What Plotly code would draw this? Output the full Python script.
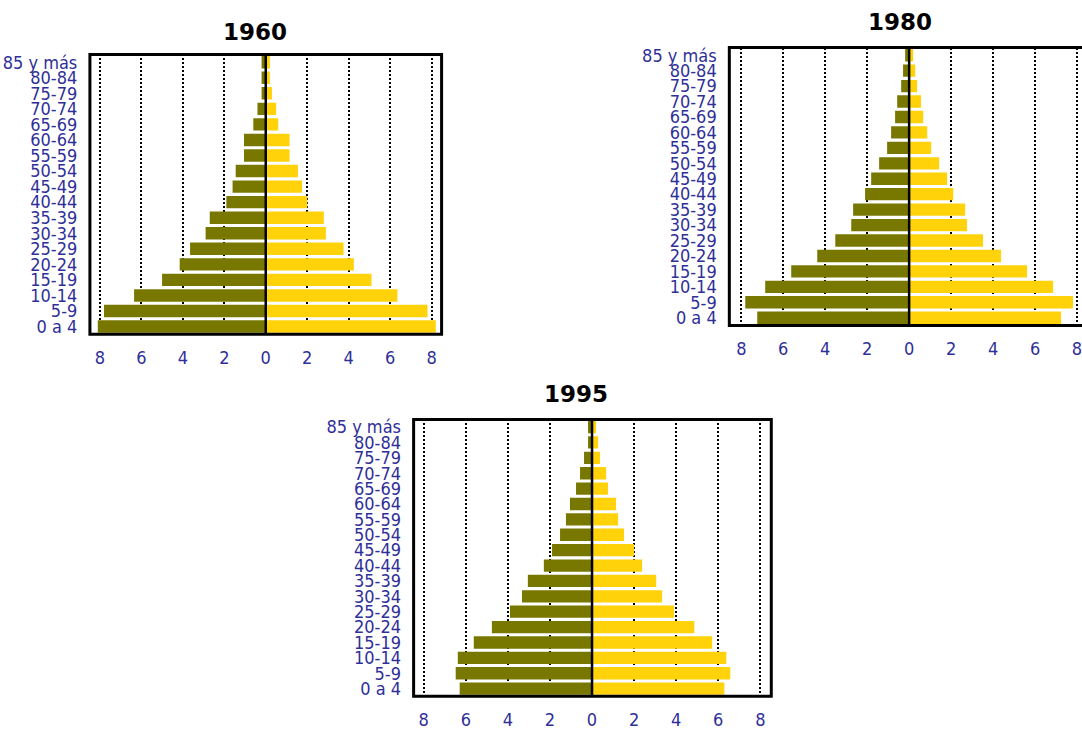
import plotly.graph_objects as go

W, H = 1082, 730

age_groups = ["0 a 4", "5-9", "10-14", "15-19", "20-24", "25-29", "30-34", "35-39",
              "40-44", "45-49", "50-54", "55-59", "60-64", "65-69", "70-74", "75-79",
              "80-84", "85 y más"]

men_1960 = [8.1, 7.8, 6.35, 5.0, 4.15, 3.65, 2.9, 2.7, 1.9, 1.6, 1.45, 1.05, 1.05, 0.6, 0.4, 0.2, 0.2, 0.2]
women_1960 = [8.2, 7.8, 6.35, 5.1, 4.25, 3.75, 2.9, 2.8, 2.0, 1.75, 1.55, 1.15, 1.15, 0.6, 0.5, 0.3, 0.2, 0.2]

men_1980 = [7.24, 7.81, 6.86, 5.62, 4.38, 3.52, 2.76, 2.67, 2.1, 1.81, 1.43, 1.05, 0.86, 0.67, 0.57, 0.38, 0.29, 0.19]
women_1980 = [7.24, 7.81, 6.86, 5.62, 4.38, 3.52, 2.76, 2.67, 2.1, 1.81, 1.43, 1.05, 0.86, 0.67, 0.57, 0.38, 0.29, 0.19]

men_1995 = [6.29, 6.48, 6.38, 5.62, 4.76, 3.9, 3.33, 3.05, 2.29, 1.9, 1.52, 1.24, 1.05, 0.76, 0.57, 0.38, 0.19, 0.19]
women_1995 = [6.29, 6.57, 6.38, 5.71, 4.86, 3.9, 3.33, 3.05, 2.38, 2.0, 1.52, 1.24, 1.14, 0.76, 0.67, 0.38, 0.29, 0.19]

years = ["1960", "1980", "1995"]
tick_vals = [-8, -6, -4, -2, 0, 2, 4, 6, 8]
tick_text = ["8", "6", "4", "2", "0", "2", "4", "6", "8"]

OLIVE = "#787800"
YELLOW = "#FFD20A"
LABEL_BLUE = "#2f2f98"
LABEL_FONT = "Liberation Sans Narrow, DejaVu Sans Condensed, Arial Narrow, sans-serif"

# panel geometry in pixels: (left, right, top, bottom, xmin, xmax)
panels = [
    (90, 442, 52, 335, -8.48, 8.48),
    (730, 1082, 45, 326, -8.57, 8.19),
    (414, 772, 421, 701, -8.48, 8.52),
]
# title centres in pixels
title_pos = [(255, 29.5), (901, 19.5), (577, 395)]
series = [(men_1960, women_1960), (men_1980, women_1980), (men_1995, women_1995)]

fig = go.Figure()
shapes = []
annotations = []
for i, ((l, r, t, b, xmin, xmax), (men, women), year, (tx, ty)) in enumerate(
        zip(panels, series, years, title_pos)):
    sfx = "" if i == 0 else str(i + 1)
    xa, ya = "x" + sfx, "y" + sfx
    fig.add_trace(go.Bar(y=age_groups, x=[-v for v in men], orientation="h",
                         marker=dict(color=OLIVE, line=dict(width=0)),
                         name="Hombres", showlegend=False, xaxis=xa, yaxis=ya))
    fig.add_trace(go.Bar(y=age_groups, x=women, orientation="h",
                         marker=dict(color=YELLOW, line=dict(width=0)),
                         name="Mujeres", showlegend=False, xaxis=xa, yaxis=ya))
    dx = [l / W, r / W]
    dy = [1 - b / H, 1 - t / H]
    fig.update_layout(**{
        "xaxis" + sfx: dict(domain=dx, range=[xmin, xmax], anchor=ya,
                            tickmode="array", tickvals=tick_vals, ticktext=tick_text,
                            showgrid=True, gridcolor="#000000", gridwidth=2, griddash="2px,2px",
                            zeroline=False, showline=False, ticks="",
                            ticklabelstandoff=11, ticklabeloverflow="allow",
                            tickfont=dict(family=LABEL_FONT, size=18, color=LABEL_BLUE),
                            fixedrange=True),
        "yaxis" + sfx: dict(domain=dy, range=[-0.5, 17.5], anchor=xa,
                            type="category", categoryorder="array", categoryarray=age_groups,
                            tickmode="array", tickvals=age_groups, ticktext=age_groups,
                            showgrid=False, zeroline=False, showline=False,
                            ticks="outside", ticklen=8, tickcolor="rgba(0,0,0,0)",
                            tickfont=dict(family=LABEL_FONT, size=18, color=LABEL_BLUE),
                            fixedrange=True),
    })
    # zero line above bars
    shapes.append(dict(type="line", xref=xa, yref=ya + " domain", x0=0, x1=0, y0=0, y1=1,
                       line=dict(color="black", width=2.5), layer="above"))
    # frame
    rr = r if i != 1 else 1100
    shapes.append(dict(type="rect", xref="paper", yref="paper",
                       x0=l / W, x1=rr / W, y0=1 - b / H, y1=1 - t / H,
                       line=dict(color="black", width=3), layer="above"))
    annotations.append(dict(text="<b>" + year + "</b>", xref="paper", yref="paper",
                            x=tx / W, y=1 - ty / H,
                            showarrow=False, xanchor="center", yanchor="middle",
                            font=dict(family="DejaVu Sans", size=23, color="black")))

fig.update_layout(width=W, height=H, margin=dict(l=0, r=0, t=0, b=0),
                  barmode="overlay", bargap=0.2,
                  plot_bgcolor="white", paper_bgcolor="white",
                  shapes=shapes, annotations=annotations)

fig.write_html("out.html", config={"displayModeBar": False},
               post_script="document.body.style.margin='0';document.body.style.overflow='hidden';")
